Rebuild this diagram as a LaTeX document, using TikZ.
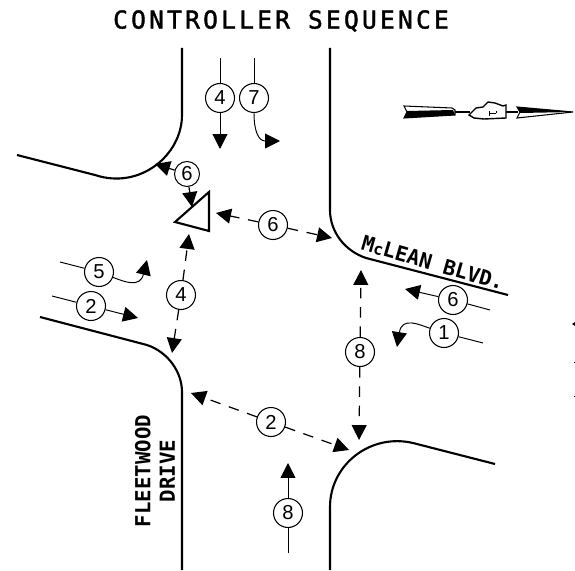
\documentclass[tikz,border=0pt]{standalone}
\usepackage{fontspec}
\setmainfont{Liberation Sans}
\newfontfamily\titlefont[LetterSpace=13,FakeBold=1.6]{DejaVu Sans Mono}
\newfontfamily\roadfont{DejaVu Sans Mono}
\usetikzlibrary{arrows.meta}
\tikzset{
    road/.style={line width=1.2pt},
    phase/.style={draw, circle, line width=0.6pt, inner sep=0pt, minimum size=0.58cm, font=\fontsize{11.5}{13}\selectfont},
    flow/.style={line width=0.55pt, ->},
    sight/.style={line width=0.7pt, ->, dash pattern=on 6pt off 5pt},
    roadname/.style={font=\roadfont\bfseries\fontsize{11.8}{13}\selectfont, inner sep=0pt},
}
\begin{document}
\begin{tikzpicture}[>={Stealth[inset=0pt,length=8.5pt,width=8.5pt]}, x=0.02cm, y=-0.02cm]
    \useasboundingbox (0,0) rectangle (575,571);
    \node (title) at (281,21) {\titlefont\fontsize{14}{16}\selectfont CONTROLLER SEQUENCE};

    % road edges
    \draw[road] (182,48) -- (182,115) .. controls (182,155) and (140,190) .. (95,175) -- (17,155);
    \draw[road] (330,48) -- (330,210) .. controls (330,232) and (345,251) .. (366,258) -- (508,295);
    \draw[road] (40,317) -- (147,345) .. controls (168,352) and (182,372) .. (182,392) -- (182,570);
    \draw[road] (330,570) -- (330,507) .. controls (330,465) and (370,433) .. (413,443) -- (495,464);

    % road names
    \node[roadname, rotate=-16] (mclean) at (433,263) {M{\fontsize{9}{10}\selectfont c}LEAN BLVD.};
    \node[roadname, rotate=90, align=center] (fleetwood) at (155,471) {FLEETWOOD\\[1pt]DRIVE};

    % signal head
    \draw[line width=1.2pt, line join=miter] (175,222) -- (209,192) -- (209,231) -- cycle;
    \coordinate (head) at (192,207);

    % phase numbers
    \node[phase] (n4a) at (220,98) {4};
    \node[phase] (n7) at (254,98) {7};
    \node[phase, minimum size=0.5cm] (n6a) at (187,174) {6};
    \node[phase] (n6b) at (273,225) {6};
    \node[phase] (n5) at (99,272) {5};
    \node[phase] (n2a) at (91,306) {2};
    \node[phase] (n4b) at (181,295) {4};
    \node[phase] (n2b) at (271,422) {2};
    \node[phase] (n8a) at (288,513) {8};
    \node[phase] (n8b) at (360,352) {8};
    \node[phase] (n6c) at (453,300) {6};
    \node[phase] (n1) at (444,333) {1};

    % free ends
    \coordinate (t4a) at (220,58);
    \coordinate (e4a) at (220,149);
    \coordinate (t7) at (254,58);
    \coordinate (e7) at (280,141);
    \coordinate (t5) at (60,262);
    \coordinate (e5) at (147,260);
    \coordinate (t2a) at (52,296);
    \coordinate (e2a) at (138,318);
    \coordinate (t8a) at (288,553);
    \coordinate (e8a) at (288,463);
    \coordinate (t6c) at (490,310);
    \coordinate (e6c) at (405,289);
    \coordinate (t1) at (483,343);
    \coordinate (e1) at (397,347);

    % movements
    \draw[flow, -] (t4a) -- (n4a);
    \draw[flow] (n4a) -- (e4a);
    \draw[flow, -] (t7) -- (n7);
    \draw[flow] (n7) .. controls (254,130) and (258,141) .. (e7);
    \draw[flow, -] (t5) -- (n5);
    \draw[flow] (n5) .. controls (125,282) and (140,288) .. (e5);
    \draw[flow, -] (t2a) -- (n2a);
    \draw[flow] (n2a) -- (e2a);
    \draw[flow, -] (t8a) -- (n8a);
    \draw[flow] (n8a) -- (e8a);
    \draw[flow, -] (t6c) -- (n6c);
    \draw[flow] (n6c) -- (e6c);
    \draw[flow, -] (t1) -- (n1);
    \draw[flow] (n1) .. controls (420,325) and (402,316) .. (e1);

    % sight lines
    \coordinate (s6a) at (155,164);
    \coordinate (s6b) at (216,213);
    \coordinate (s6c) at (332,238);
    \coordinate (s4a) at (189,234);
    \coordinate (s4b) at (172,353);
    \coordinate (s2a) at (191,393);
    \coordinate (s2b) at (349,450);
    \coordinate (s8a) at (361,270);
    \coordinate (s8b) at (359,440);
    \draw[sight] (n6a) -- (s6a);
    \draw[sight] (n6a) -- (head);
    \draw[sight] (n6b) -- (s6b);
    \draw[sight] (n6b) -- (s6c);
    \draw[sight] (n4b) -- (s4a);
    \draw[sight] (n4b) -- (s4b);
    \draw[sight] (n2b) -- (s2a);
    \draw[sight] (n2b) -- (s2b);
    \draw[sight] (n8b) -- (s8a);
    \draw[sight] (n8b) -- (s8b);

    % hand
    \draw[line width=0.6pt] (455,112) -- (470,112);
    \draw[line width=0.6pt] (506,112) -- (518,112);
    \filldraw[fill=white, line width=0.6pt] (404,106) -- (452,108) -- (455,110) -- (455,115) -- (404,118) -- (407,112) -- cycle;
    \fill (407,111) -- (453,110) -- (455,115) -- (404,118) -- cycle;
    \filldraw[fill=white, line width=0.8pt] (469,115) -- (476,108) -- (483,107) -- (488,102) -- (495,103) -- (503,106) -- (506,105) -- (506,118) -- (484,119) -- (474,118) -- cycle;
    \draw[line width=0.5pt] (489,116) -- (489,111) (489,113) -- (496,113) (496,111) -- (496,113);
    \filldraw[fill=white, line width=0.6pt] (517,107) -- (573,112) -- (517,118) -- (520,112) -- cycle;
    \fill (517,107) -- (573,112) -- (520,113) -- cycle;

    % specks at the edge
    \fill (575,322) -- (572,324) -- (575,326) -- cycle;
    \fill (574,361.5) rectangle (575,362.5);
    \fill (574,395.5) rectangle (575,396.5);
\end{tikzpicture}
\end{document}
